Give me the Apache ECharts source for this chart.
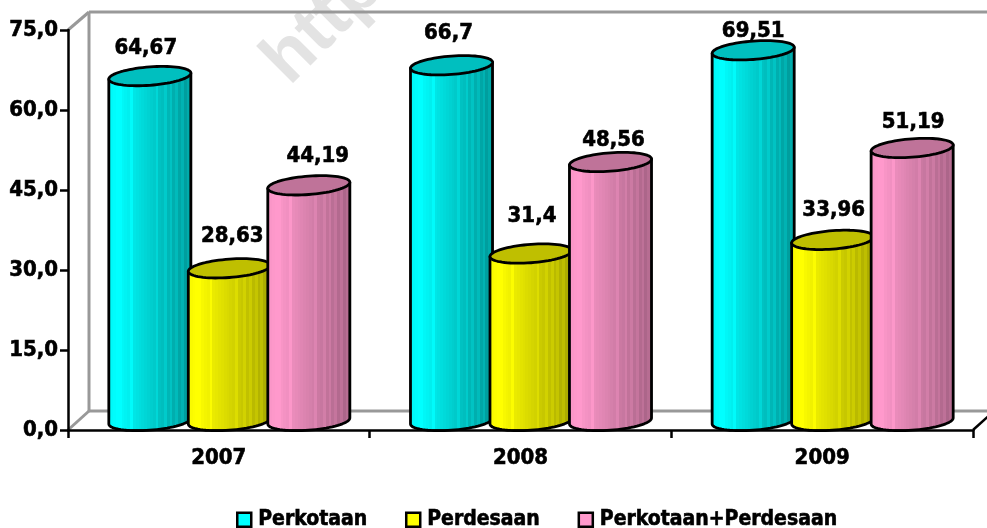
<!DOCTYPE html>
<html>
<head>
<meta charset="utf-8">
<style>html,body{margin:0;padding:0;background:#fff}#c{width:987px;height:528px}</style>
<script src="https://cdn.jsdelivr.net/npm/echarts@6/dist/echarts.min.js"></script>
</head>
<body>
<div id="c"></div>
<script>
const years = ['2007', '2008', '2009'];
const perkotaan = [64.67, 66.7, 69.51];
const perdesaan = [28.63, 31.4, 33.96];
const gabungan = [44.19, 48.56, 51.19];
const labelsKota = ['64,67', '66,7', '69,51'];
const labelsDesa = ['28,63', '31,4', '33,96'];
const labelsGab = ['44,19', '48,56', '51,19'];

// hand placement of the value labels, [dx, dy] in px
const nudgeKota = [[-4, 0], [-3, -4], [0, 9]];
const nudgeDesa = [[3, -4], [1, -9], [1, -2]];
const nudgeGab = [[9, -1], [3, 6], [1, 2]];

const FONT = '"DejaVu Sans Condensed","DejaVu Sans",sans-serif';
const DEPTH_X = 21, DEPTH_Y = 19;
const HEAVY = { textBorderColor: '#000', textBorderWidth: 0.6 };

function mix(a, b, t) {
  return 'rgb(' + a.map((v, i) => Math.round(v + (b[i] - v) * t)).join(',') + ')';
}
function stripes(l, r) {
  const stops = [];
  const N = 30;
  const bright = [4, 8, 17, 20, 22, 24, 26, 28];
  for (let i = 0; i < N; i++) {
    const t = i / (N - 1);
    let tone = t < 0.1 ? 0.08 - t * 0.8 : (t - 0.1) / 0.9;
    if (bright.includes(i)) tone = Math.max(0, tone - 0.16);
    const c = mix(l, r, tone);
    stops.push({ offset: i / N, color: c }, { offset: (i + 1) / N, color: c });
  }
  return { type: 'linear', x: 0, y: 0, x2: 1, y2: 0, colorStops: stops };
}

function cylinder(slot, fill, topColor, texts, nudges) {
  return function (params, api) {
    const i = api.value(0);
    const p = api.coord([i, api.value(1)]);
    const base = api.coord([i, 0]);
    const step = api.size([1, 0])[0];
    const cx = p[0] + DEPTH_X / 2 + slot * step * 0.2635;
    const a = step * 0.136, b = 9.2, tilt = 3;
    const topY = p[1] - 9, botY = base[1] - 9;
    const pt = (cy, t) => [cx + a * Math.cos(t), cy + b * Math.sin(t) - tilt * Math.cos(t)];
    const body = [];
    body.push(pt(topY, Math.PI));
    for (let k = 0; k <= 36; k++) body.push(pt(botY, Math.PI - Math.PI * k / 36));
    body.push(pt(topY, 0));
    const lid = [];
    for (let k = 0; k < 72; k++) lid.push(pt(topY, 2 * Math.PI * k / 72));
    const line = { stroke: '#000', lineWidth: 2.8, lineJoin: 'round' };
    return {
      type: 'group',
      children: [
        { type: 'polygon', shape: { points: body }, style: Object.assign({ fill: fill }, line) },
        { type: 'polygon', shape: { points: lid }, style: Object.assign({ fill: topColor }, line) },
        {
          type: 'text', z2: 50,
          style: {
            text: texts[i], x: cx + nudges[i][0], y: p[1] - 37 + nudges[i][1],
            fill: '#000', font: 'bold 22px ' + FONT, align: 'center', verticalAlign: 'middle',
            stroke: '#000', lineWidth: 0.6
          }
        }
      ]
    };
  };
}

function walls(params, api) {
  const half = api.size([1, 0])[0] / 2;
  const zero = api.coord([0, 0]);
  const top = api.coord([0, 75]);
  const last = api.coord([2, 0]);
  const left = zero[0] - half, right = last[0] + half;
  const w = api.getWidth();
  const line = { stroke: '#999', lineWidth: 3, fill: 'none' };
  const seg = (x1, y1, x2, y2) => ({ type: 'line', shape: { x1, y1, x2, y2 }, style: line });
  return {
    type: 'group',
    children: [
      seg(left + DEPTH_X, top[1] - DEPTH_Y + 1, left + DEPTH_X, zero[1] - DEPTH_Y),
      seg(left + DEPTH_X, top[1] - DEPTH_Y + 1, w, top[1] - DEPTH_Y + 1),
      seg(left + DEPTH_X, zero[1] - DEPTH_Y, w, zero[1] - DEPTH_Y),
      seg(left, zero[1], left + DEPTH_X, zero[1] - DEPTH_Y),
      seg(left, top[1], left + DEPTH_X, top[1] - DEPTH_Y + 1),
      { type: 'line', shape: { x1: right, y1: zero[1], x2: right + DEPTH_X, y2: zero[1] - DEPTH_Y },
        style: { stroke: '#000', lineWidth: 2.5 } }
    ]
  };
}

const toRows = vals => vals.map((v, i) => [i, v]);
const chart = echarts.init(document.getElementById('c'), null, { renderer: 'canvas' });
chart.setOption({
  animation: false,
  backgroundColor: '#fff',
  graphic: [{
    type: 'text', z: 0, x: 301, y: 98, rotation: Math.PI / 4, silent: true,
    style: { text: 'http', fill: '#e3e3e3', font: 'bold 72px "Liberation Sans"', verticalAlign: 'bottom' }
  }],
  grid: { left: 68, top: 30, width: 905, height: 400, containLabel: false },
  legend: {
    left: 231, top: 504, itemWidth: 14, itemHeight: 14, itemGap: 37.5,
    icon: 'rect',
    itemStyle: { borderColor: '#000', borderWidth: 2.5 },
    textStyle: Object.assign({ fontFamily: FONT, fontWeight: 'bold', fontSize: 21, color: '#000', padding: [0, 0, 0, 2] }, HEAVY),
    data: ['Perkotaan', 'Perdesaan', 'Perkotaan+Perdesaan']
  },
  xAxis: {
    type: 'category', data: years, z: 5,
    axisLine: { lineStyle: { color: '#000', width: 2.5 } },
    axisTick: { show: true, alignWithLabel: false, length: 8, lineStyle: { color: '#000', width: 2.5 } },
    axisLabel: Object.assign({ color: '#000', fontFamily: FONT, fontWeight: 'bold', fontSize: 22, margin: 17 }, HEAVY)
  },
  yAxis: {
    type: 'value', min: 0, max: 75, interval: 15, z: 5,
    splitLine: { show: false },
    axisLine: { show: true, lineStyle: { color: '#000', width: 2.5 } },
    axisTick: { show: true, length: 8, lineStyle: { color: '#000', width: 2.5 } },
    axisLabel: Object.assign({
      color: '#000', fontFamily: FONT, fontWeight: 'bold', fontSize: 22, margin: 10, padding: [2, 0, 0, 0],
      formatter: v => v.toFixed(1).replace('.', ',')
    }, HEAVY)
  },
  series: [
    { type: 'custom', silent: true, z: 1, clip: false, data: [[0, 0]], renderItem: walls, legendHoverLink: false },
    { name: 'Perkotaan', type: 'custom', z: 2, clip: false, data: toRows(perkotaan), itemStyle: { color: '#00ffff' },
      renderItem: cylinder(-1, stripes([0, 255, 255], [0, 150, 150]), '#00bfbf', labelsKota, nudgeKota) },
    { name: 'Perdesaan', type: 'custom', z: 3, clip: false, data: toRows(perdesaan), itemStyle: { color: '#ffff00' },
      renderItem: cylinder(0, stripes([255, 255, 0], [165, 165, 0]), '#bfbf00', labelsDesa, nudgeDesa) },
    { name: 'Perkotaan+Perdesaan', type: 'custom', z: 4, clip: false, data: toRows(gabungan), itemStyle: { color: '#ff99cc' },
      renderItem: cylinder(1, stripes([255, 153, 204], [165, 98, 132]), '#bf7399', labelsGab, nudgeGab) }
  ]
});
</script>
</body>
</html>
